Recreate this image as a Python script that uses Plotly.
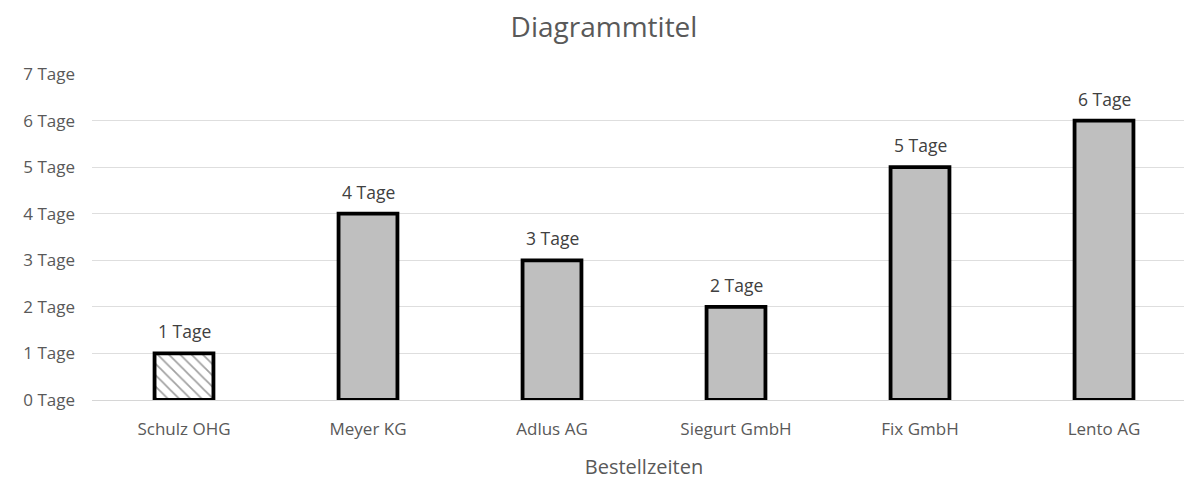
import plotly.graph_objects as go

categories = ["Schulz OHG", "Meyer KG", "Adlus AG", "Siegurt GmbH", "Fix GmbH", "Lento AG"]
days = [1, 4, 3, 2, 5, 6]
tick_values = [0, 1, 2, 3, 4, 5, 6, 7]
tick_labels = [f"{v} Tage" for v in tick_values]
bar_labels = [f"{v} Tage" for v in days]

fills = ["#FFFFFF"] + ["#BFBFBF"] * 5
patterns = ["\\"] + [""] * 5

fig = go.Figure(go.Bar(
    x=categories,
    y=days,
    width=0.32,
    marker=dict(
        color=fills,
        line=dict(color="#000000", width=3.8),
        pattern=dict(shape=patterns, fgcolor="#B0B0B0", bgcolor="#FFFFFF", size=8, solidity=0.22),
    ),
))

for c, v, t in zip(categories, days, bar_labels):
    fig.add_annotation(x=c, y=v, text=t, showarrow=False, yanchor="middle", yshift=22,
                       font=dict(family="Open Sans", size=17.5, color="#404040"))

fig.update_layout(
    width=1192, height=482,
    margin=dict(l=84, r=4, t=66, b=90),
    paper_bgcolor="white",
    plot_bgcolor="white",
    showlegend=False,
    title=dict(text="Diagrammtitel", x=0.5, xanchor="center", y=0.96, yanchor="middle",
               font=dict(family="Open Sans", size=28, color="#595959")),
    font=dict(family="Open Sans", color="#595959"),
    xaxis=dict(
        title=dict(text="Bestellzeiten", font=dict(size=20, color="#595959"), standoff=20),
        tickfont=dict(size=17, color="#595959"),
        showgrid=False, showline=False, zeroline=False, ticks="",
        ticklabelstandoff=17,
    ),
    yaxis=dict(
        range=[0, 7],
        tickvals=tick_values,
        ticktext=tick_labels,
        tickfont=dict(size=17, color="#595959"),
        showgrid=True, gridcolor="#DEDEDE", gridwidth=1,
        zeroline=True, zerolinecolor="#D6D6D6", zerolinewidth=1,
        showline=False, ticks="", ticklabelstandoff=16,
    ),
)

fig.write_html("out.html")
